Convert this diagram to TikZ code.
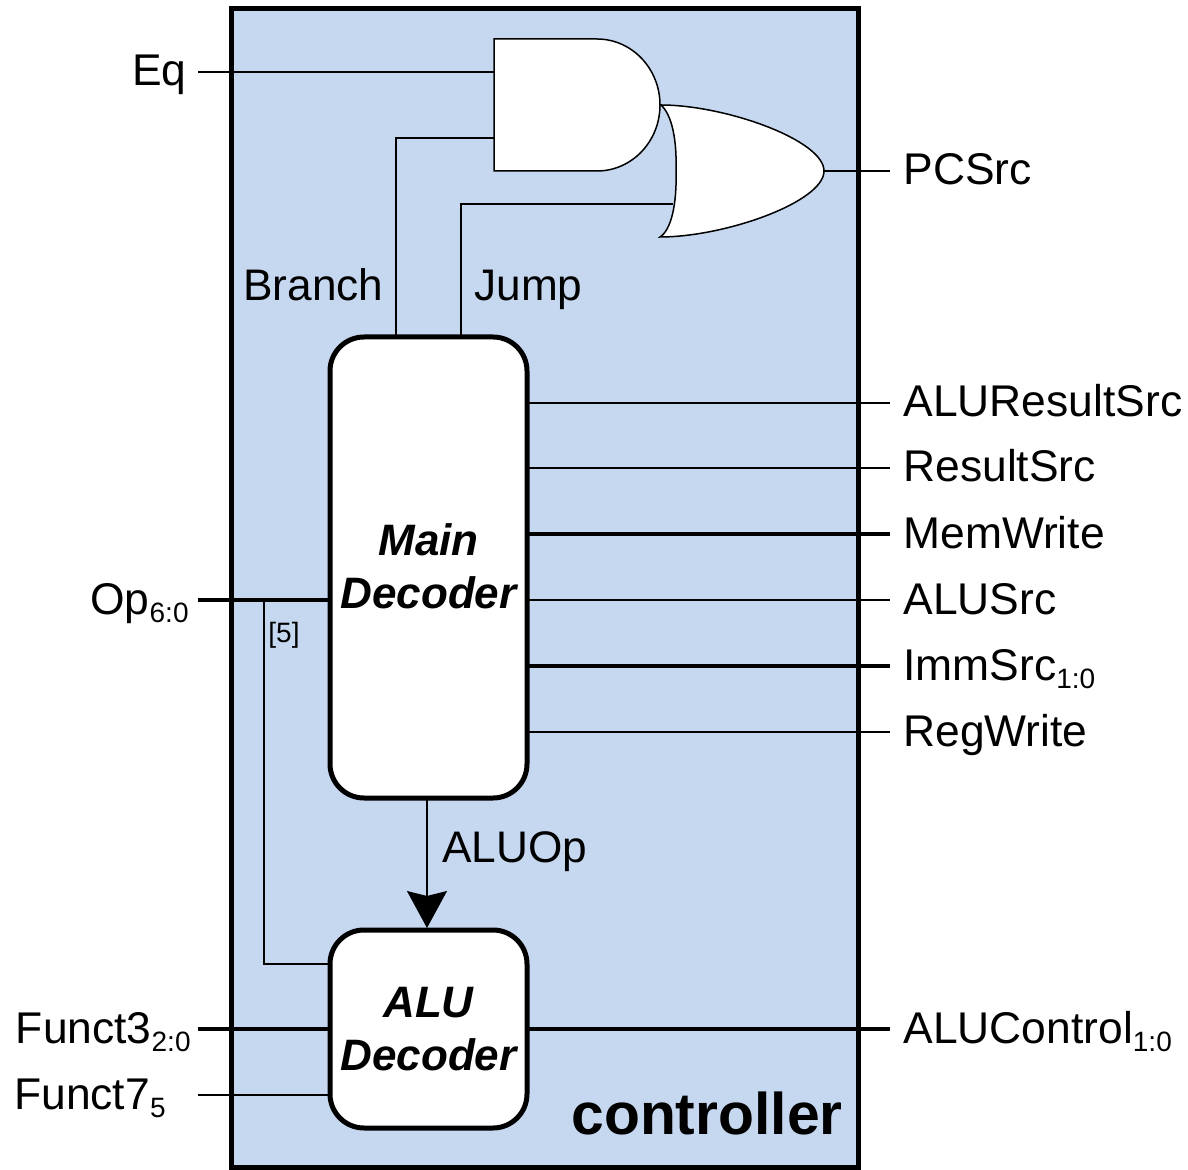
\documentclass[tikz,border=0pt]{standalone}
\usepackage{fontspec}
\setmainfont{Liberation Sans}
\usepackage{xcolor}
\usetikzlibrary{calc, arrows.meta}

\definecolor{ctrlblue}{HTML}{C6D8F0}
\newcommand{\lowsub}[1]{\raisebox{-4pt}{\fontsize{14}{14}\selectfont #1}}

\tikzset{
	wire/.style = {line width = 0.75pt},
	bus/.style = {line width = 1.7pt},
	gate/.style = {draw, fill = white, line width = 0.75pt},
	decoder/.style = {draw, fill = white, line width = 2.5pt, rounded corners = 17pt, outer sep = 0pt, minimum width = 98.5pt, align = center, font = \fontsize{22}{26.5}\selectfont\bfseries\itshape},
	sig/.style = {inner ysep = 0pt, text height = 16.5pt, text depth = 2.5pt, font = \fontsize{22.2}{26}\selectfont},
	outlabel/.style = {sig, anchor = west, inner xsep = 6.5pt},
	inlabel/.style = {sig, anchor = east, inner xsep = 3.5pt},
	freelabel/.style = {anchor = base west, inner sep = 0pt, font = \fontsize{22.1}{26}\selectfont}
}

\begin{document}
\begin{tikzpicture}[x = 0.5pt, y = -0.5pt]
	\useasboundingbox (0,0) rectangle (1188,1170);
	\def\rightx{890};
	\def\leftx{198};
	
	\draw [fill = ctrlblue, line width = 2.5pt] (231,9) rectangle (858,1167);
	
	\node [decoder, minimum height = 230.5pt] (main) at (428.5,567.5) {Main\\Decoder\rule[-1.5pt]{0pt}{1.5pt}};
	\node [decoder, minimum height = 99pt] (alu) at (428.5,1029) {ALU\\Decoder};
	
	% gates
	\draw [gate] (494,39) -- (597,39) arc [start angle = -90, end angle = 90, x radius = 63, y radius = 66] -- (494,171) -- cycle;
	\draw [gate] (661,105) .. controls (725,105) and (824,140) .. (824,171) .. controls (824,202) and (725,237) .. (660,237) .. controls (671,230) and (677,205) .. (676,171) .. controls (677,140) and (672,115) .. cycle;
	\coordinate (andtop) at (494,72);
	\coordinate (andbot) at (494,138);
	\coordinate (orbot) at (673,204);
	\coordinate (orout) at (824,171);
	
	% inputs
	\node [inlabel, inner xsep = 5.5pt] (eq) at (\leftx,72) {Eq};
	\node [inlabel, inner xsep = 4.5pt] (op) at (\leftx,600) {Op\lowsub{6:0}};
	\node [inlabel] (funct3) at (\leftx,1029) {Funct3\lowsub{2:0}};
	\node [inlabel, inner xsep = 16pt] (funct7) at (\leftx,1095) {Funct7\lowsub{5}};
	
	% outputs
	\node [outlabel] (pcsrc) at (\rightx,171) {PCSrc};
	\node [outlabel] (aluresultsrc) at (\rightx,403) {ALUResultSrc};
	\node [outlabel] (resultsrc) at (\rightx,468) {ResultSrc};
	\node [outlabel] (memwrite) at (\rightx,534) {MemWrite};
	\node [outlabel] (alusrc) at (\rightx,600) {ALUSrc};
	\node [outlabel] (immsrc) at (\rightx,666) {ImmSrc\lowsub{1:0}};
	\node [outlabel] (regwrite) at (\rightx,732) {RegWrite};
	\node [outlabel] (alucontrol) at (\rightx,1029) {ALUControl\lowsub{1:0}};
	
	\node [freelabel] (branch) at (243,301) {Branch};
	\node [freelabel] (jump) at (474,301) {Jump};
	\node [freelabel] (aluop) at (442,862) {ALUOp};
	\node [anchor = base west, inner sep = 0pt, font = \fontsize{14}{14}\selectfont] (bit) at (268,642) {[5]};
	\node [anchor = base east, inner sep = 0pt, font = \fontsize{29.4}{30}\selectfont\bfseries] (controller) at (843,1134) {controller};
	
	\draw [wire] (eq.east) -- (andtop);
	\draw [wire] (main.north -| 396,0) -- (396,138) -- (andbot);
	\draw [wire] (main.north -| 461,0) -- (461,204) -- (orbot);
	\draw [wire] (orout) -- (pcsrc.west);
	
	\draw [bus] (op.east) -- (main.west |- op.east);
	\draw [wire] (264,600) -- (264,964) -- (alu.west |- 0,964);
	\draw [bus] (funct3.east) -- (alu.west |- funct3.east);
	\draw [wire] (funct7.east) -- (alu.west |- funct7.east);
	
	\draw [wire] (main.east |- aluresultsrc.west) -- (aluresultsrc.west);
	\draw [wire] (main.east |- resultsrc.west) -- (resultsrc.west);
	\draw [bus] (main.east |- memwrite.west) -- (memwrite.west);
	\draw [wire] (main.east |- alusrc.west) -- (alusrc.west);
	\draw [bus] (main.east |- immsrc.west) -- (immsrc.west);
	\draw [wire] (main.east |- regwrite.west) -- (regwrite.west);
	\draw [bus] (alu.east |- alucontrol.west) -- (alucontrol.west);
	
	\draw [wire, shorten > = 1pt, -{Stealth[length = 18.5pt, width = 20pt, inset = 2.5pt]}] ([xshift = -0.75pt]main.south) -- ([xshift = -0.75pt]alu.north);
\end{tikzpicture}
\end{document}
